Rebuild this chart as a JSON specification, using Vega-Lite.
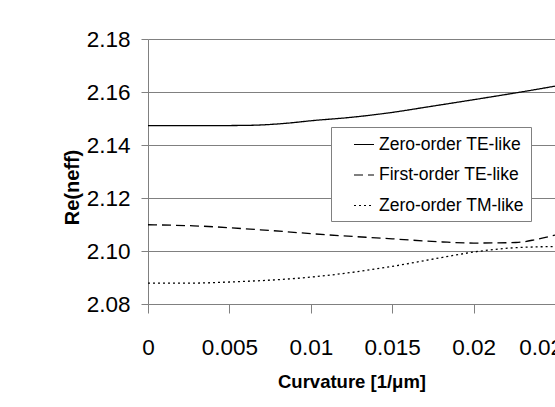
{
  "$schema": "https://vega.github.io/schema/vega-lite/v6.json",
  "width": 407,
  "height": 265,
  "autosize": {"type": "none"},
  "padding": {"left": 148, "top": 39, "right": 0, "bottom": 103},
  "background": "white",
  "config": {
    "view": {"stroke": null},
    "font": "Liberation Sans"
  },
  "data": {
    "values": [
      {"mode": "Zero-order TE-like", "c": 0, "n": 2.1473},
      {"mode": "Zero-order TE-like", "c": 0.003, "n": 2.1473},
      {"mode": "Zero-order TE-like", "c": 0.006, "n": 2.1474},
      {"mode": "Zero-order TE-like", "c": 0.0085, "n": 2.1482},
      {"mode": "Zero-order TE-like", "c": 0.0101, "n": 2.1492},
      {"mode": "Zero-order TE-like", "c": 0.0124, "n": 2.1504},
      {"mode": "Zero-order TE-like", "c": 0.015, "n": 2.1523},
      {"mode": "Zero-order TE-like", "c": 0.0171, "n": 2.1543},
      {"mode": "Zero-order TE-like", "c": 0.02, "n": 2.1571},
      {"mode": "Zero-order TE-like", "c": 0.0234, "n": 2.1605},
      {"mode": "Zero-order TE-like", "c": 0.025, "n": 2.1622},
      {"mode": "First-order TE-like", "c": 0, "n": 2.1099},
      {"mode": "First-order TE-like", "c": 0.0028, "n": 2.1095},
      {"mode": "First-order TE-like", "c": 0.0069, "n": 2.108},
      {"mode": "First-order TE-like", "c": 0.011, "n": 2.1061},
      {"mode": "First-order TE-like", "c": 0.015, "n": 2.1046},
      {"mode": "First-order TE-like", "c": 0.0181, "n": 2.1034},
      {"mode": "First-order TE-like", "c": 0.02, "n": 2.103},
      {"mode": "First-order TE-like", "c": 0.0226, "n": 2.1032},
      {"mode": "First-order TE-like", "c": 0.0238, "n": 2.1043},
      {"mode": "First-order TE-like", "c": 0.025, "n": 2.106},
      {"mode": "Zero-order TM-like", "c": 0, "n": 2.0879},
      {"mode": "Zero-order TM-like", "c": 0.0028, "n": 2.0879},
      {"mode": "Zero-order TM-like", "c": 0.005, "n": 2.0883},
      {"mode": "Zero-order TM-like", "c": 0.0101, "n": 2.0902},
      {"mode": "Zero-order TM-like", "c": 0.015, "n": 2.0942},
      {"mode": "Zero-order TM-like", "c": 0.0181, "n": 2.0976},
      {"mode": "Zero-order TM-like", "c": 0.02, "n": 2.0996},
      {"mode": "Zero-order TM-like", "c": 0.0222, "n": 2.1011},
      {"mode": "Zero-order TM-like", "c": 0.025, "n": 2.1017}
    ]
  },
  "mark": {"type": "line", "color": "black", "strokeWidth": 1.3, "interpolate": "monotone", "clip": true},
  "encoding": {
    "x": {
      "field": "c",
      "type": "quantitative",
      "scale": {"domain": [0, 0.025], "nice": false, "zero": false},
      "axis": {
        "title": "Curvature [1/μm]",
        "titleFontSize": 18.5,
        "titleFontWeight": "bold",
        "titleColor": "black",
        "titleBaseline": "alphabetic",
        "titleY": 83,
        "values": [0, 0.005, 0.01, 0.015, 0.02, 0.025],
        "format": "~g",
        "labelFontSize": 22.5,
        "labelColor": "black",
        "labelPadding": 23,
        "labelOffset": {"expr": "datum.value > 0.024 ? -8 : 0"},
        "labelOverlap": false,
        "labelBound": false,
        "labelFlush": false,
        "tickSize": 9,
        "tickColor": "#808080",
        "tickOpacity": {"expr": "datum.value > 0.024 ? 0 : 1"},
        "domainColor": "#808080",
        "grid": false
      }
    },
    "y": {
      "field": "n",
      "type": "quantitative",
      "scale": {"domain": [2.08, 2.18], "nice": false, "zero": false},
      "axis": {
        "title": "Re(neff)",
        "titleFontSize": 20,
        "titleFontWeight": "bold",
        "titleColor": "black",
        "titleX": -66,
        "titleY": 148,
        "values": [2.08, 2.1, 2.12, 2.14, 2.16, 2.18],
        "format": ".2f",
        "labelFontSize": 22.5,
        "labelColor": "black",
        "labelPadding": 11,
        "tickSize": 7,
        "tickColor": "#808080",
        "domainColor": "#808080",
        "grid": true,
        "gridColor": "#808080",
        "gridOpacity": 1
      }
    },
    "strokeDash": {
      "field": "mode",
      "type": "nominal",
      "scale": {
        "domain": ["Zero-order TE-like", "First-order TE-like", "Zero-order TM-like"],
        "range": [[1, 0], [9, 5], [2, 3]]
      },
      "legend": {
        "orient": "none",
        "legendX": 183,
        "legendY": 88,
        "title": null,
        "strokeColor": "#808080",
        "fillColor": "white",
        "padding": 6.5,
        "symbolType": "stroke",
        "symbolSize": 400,
        "symbolStrokeWidth": 1.2,
        "symbolStrokeColor": "black",
        "symbolOffset": 15.5,
        "labelFontSize": 17.5,
        "labelColor": "black",
        "labelOffset": 4,
        "rowPadding": 10.5,
        "labelExpr": "datum.label + '\u00a0\u00a0'"
      }
    }
  }
}
